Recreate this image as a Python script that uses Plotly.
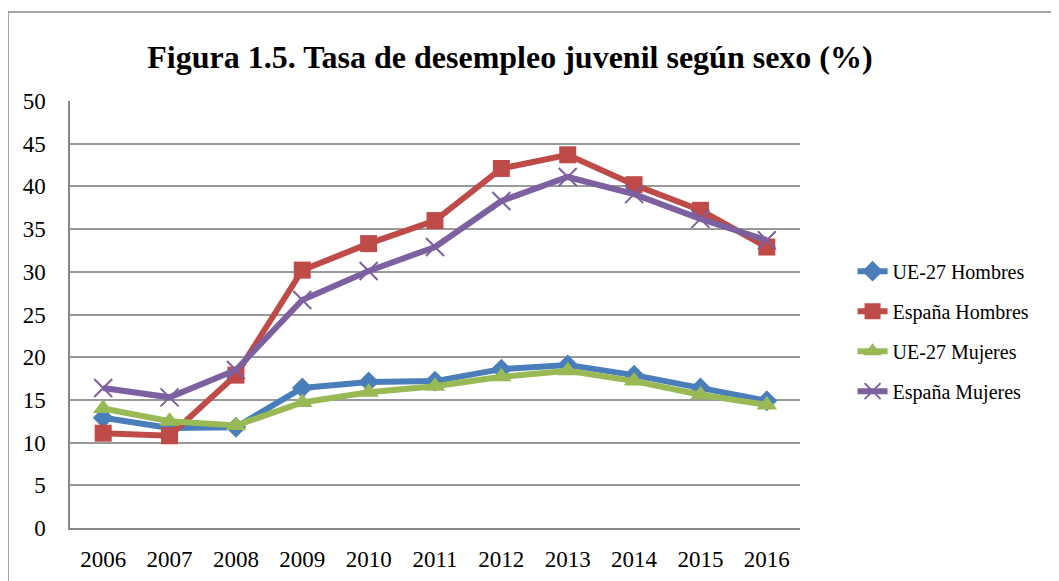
import plotly.graph_objects as go

years = ["2006", "2007", "2008", "2009", "2010", "2011", "2012", "2013", "2014", "2015", "2016"]
ue_hombres = [12.9, 11.7, 11.8, 16.4, 17.1, 17.2, 18.6, 19.1, 17.9, 16.4, 14.9]
esp_hombres = [11.1, 10.8, 17.9, 30.2, 33.3, 36.0, 42.1, 43.7, 40.2, 37.2, 32.9]
ue_mujeres = [14.0, 12.5, 12.0, 14.7, 15.9, 16.6, 17.7, 18.4, 17.2, 15.6, 14.4]
esp_mujeres = [16.4, 15.3, 18.5, 26.7, 30.1, 32.9, 38.3, 41.1, 39.1, 36.2, 33.7]

series = [
    ("UE-27 Hombres", ue_hombres, "#4A7EBB", dict(symbol="diamond", size=16)),
    ("España Hombres", esp_hombres, "#BE4B48", dict(symbol="square", size=17)),
    ("UE-27 Mujeres", ue_mujeres, "#98B954", dict(symbol="triangle-up", size=18)),
    ("España Mujeres", esp_mujeres, "#7D60A0", dict(symbol="x-thin", size=18, line=dict(width=2, color="#7D60A0"))),
]

fig = go.Figure()
for i, (name, vals, color, mk) in enumerate(series):
    fig.add_trace(go.Scatter(
        x=years, y=vals, name=name, mode="lines+markers",
        line=dict(color=color, width=6),
        marker=dict(color=color, **mk),
        legendgroup=f"g{i}",
    ))

# page body has an 8px margin; compensate so the plot lands where the reference has it
L, T, PW, PH = 62, 93, 730, 427
fig.update_layout(
    width=1059, height=581,
    margin=dict(l=L, r=1059 - L - PW, t=T, b=581 - T - PH),
    paper_bgcolor="white", plot_bgcolor="white",
    font=dict(family="Liberation Serif, Times New Roman, serif", size=21, color="black"),
    title=dict(text="<b>Figura 1.5. Tasa de desempleo juvenil según sexo (%)</b>",
               x=0.474, xanchor="center", y=0.916, yanchor="middle",
               font=dict(size=32, family="Liberation Serif, Times New Roman, serif")),
    legend=dict(x=1.072, xanchor="left", y=0.461, yanchor="middle",
                font=dict(size=20), tracegroupgap=11, bgcolor="rgba(0,0,0,0)"),
    showlegend=True,
)
fig.update_xaxes(type="category", range=[-0.5, 10.5], showgrid=False, showline=True,
                 linecolor="#888888", linewidth=1.5, ticks="", ticklabelstandoff=10,
                 tickfont=dict(size=23))
fig.update_yaxes(range=[0, 50], dtick=5, showgrid=True, gridcolor="#999999", gridwidth=1.5,
                 showline=True, linecolor="#888888", linewidth=1.5, zeroline=False,
                 ticks="", ticklabelstandoff=18, tickfont=dict(size=23))

# outer chart border
fig.add_shape(type="rect", xref="paper", yref="paper",
              x0=(0 - L) / PW, x1=(1080 - L) / PW,
              y0=(T + PH - 600) / PH, y1=(T + PH - 4) / PH,
              line=dict(color="#888888", width=1.5), layer="below")

fig.write_html("out.html")
